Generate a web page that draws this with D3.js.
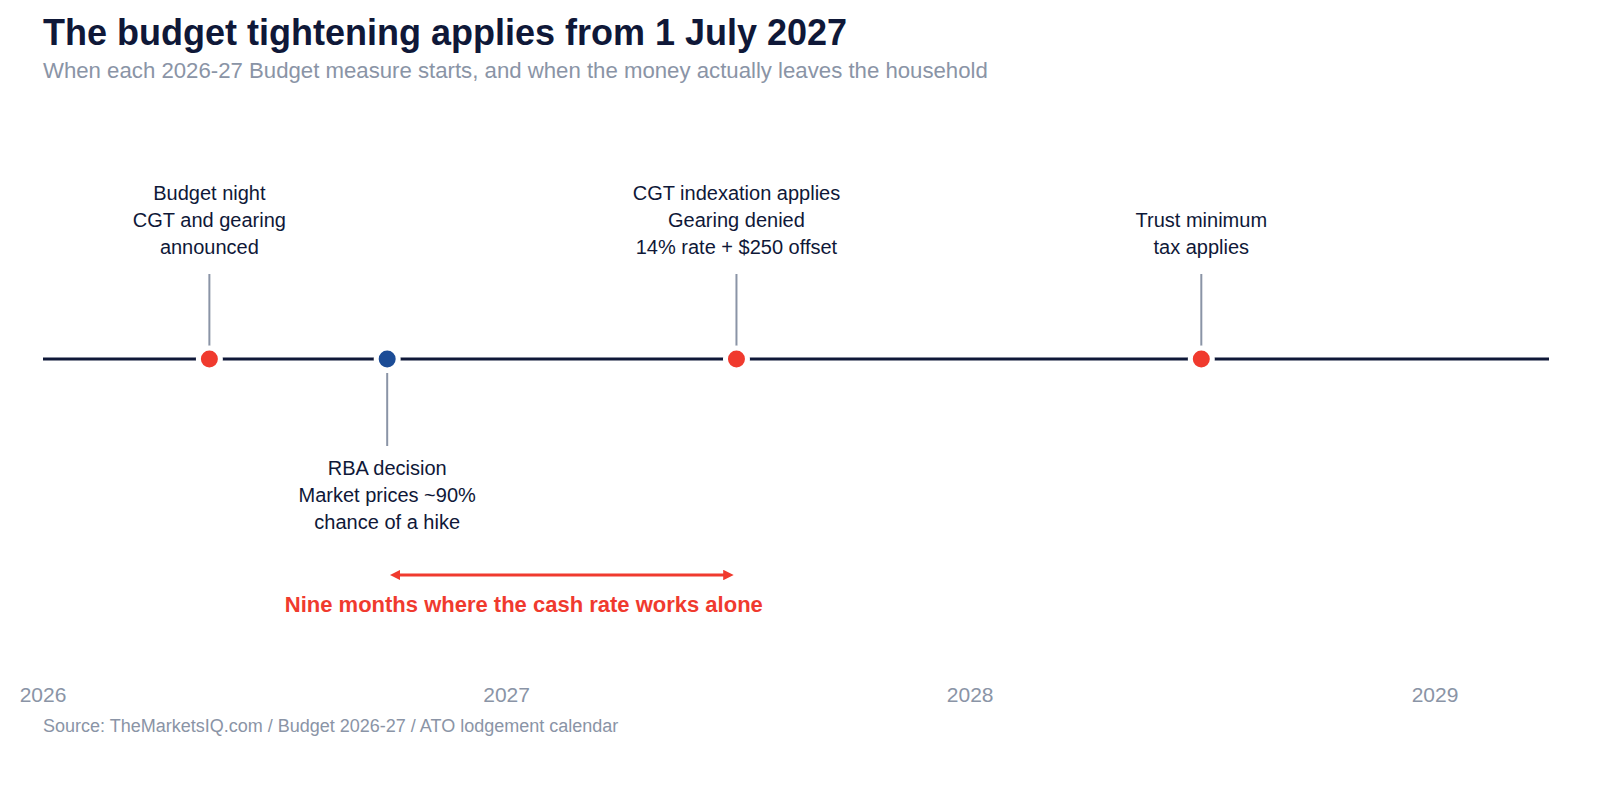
<!DOCTYPE html>
<html>
<head>
<meta charset="utf-8">
<script src="https://cdn.jsdelivr.net/npm/d3@7"></script>
<style>
  body { margin: 0; background: #fff; font-family: "Liberation Sans", Arial, sans-serif; }
</style>
</head>
<body>
<div class="canvas"></div>
<script>
const eventDates = ["2026-05-12", "2026-09-29", "2027-07-01", "2028-07-01"];
const eventLabels = [
  ["Budget night", "CGT and gearing", "announced"],
  ["RBA decision", "Market prices ~90%", "chance of a hike"],
  ["CGT indexation applies", "Gearing denied", "14% rate + $250 offset"],
  ["Trust minimum", "tax applies"],
];
const eventSide = ["above", "below", "above", "above"];
const eventKind = ["budget", "rba", "budget", "budget"];
const tickYears = ["2026", "2027", "2028", "2029"];
const spanDates = ["2026-09-29", "2027-07-01"];
const spanLabel = "Nine months where the cash rate works alone";

const width = 1600, height = 800;
const axisY = 359;
const navy = "#0f1838", red = "#f03a2e", blue = "#1c4c96", grey = "#8a94a6";

const svg = d3.select(".canvas").append("svg")
  .attr("width", width).attr("height", height);

const x = d3.scaleTime()
  .domain([new Date("2026-01-01"), new Date("2029-01-01")])
  .range([43, 1435]);

// title block
svg.append("text").attr("x", 43).attr("y", 45)
  .attr("font-size", 36).attr("font-weight", "bold").attr("fill", navy)
  .text("The budget tightening applies from 1 July 2027");
svg.append("text").attr("x", 43).attr("y", 78)
  .attr("font-size", 22.2).attr("fill", grey)
  .text("When each 2026-27 Budget measure starts, and when the money actually leaves the household");

// timeline
svg.append("line")
  .attr("x1", 43).attr("x2", 1549).attr("y1", axisY).attr("y2", axisY)
  .attr("stroke", navy).attr("stroke-width", 3);

const events = eventDates.map((d, i) => ({
  date: new Date(d), lines: eventLabels[i], side: eventSide[i], kind: eventKind[i],
}));

const g = svg.selectAll("g.event").data(events).enter().append("g").attr("class", "event");

g.append("line")
  .attr("x1", (d) => x(d.date)).attr("x2", (d) => x(d.date))
  .attr("y1", (d) => (d.side === "above" ? 274 : 373))
  .attr("y2", (d) => (d.side === "above" ? 346 : 446))
  .attr("stroke", grey).attr("stroke-width", 2);

g.append("circle")
  .attr("cx", (d) => x(d.date)).attr("cy", axisY).attr("r", 11)
  .attr("fill", (d) => (d.kind === "rba" ? blue : red))
  .attr("stroke", "#fff").attr("stroke-width", 5);

g.each(function (d) {
  const n = d.lines.length;
  const lastBase = 254;
  const firstBase = d.side === "above" ? lastBase - (n - 1) * 27 : 475;
  const t = d3.select(this).append("text")
    .attr("text-anchor", "middle").attr("font-size", 20).attr("fill", navy);
  d.lines.forEach((l, j) => {
    t.append("tspan").attr("x", x(d.date)).attr("y", firstBase + j * 27).text(l);
  });
});

// span arrow
const defs = svg.append("defs");
["start", "end"].forEach((k) => {
  defs.append("marker").attr("id", "arr-" + k)
    .attr("viewBox", "0 0 10 10").attr("refX", 5).attr("refY", 5)
    .attr("markerWidth", 3.5).attr("markerHeight", 3.5)
    .attr("orient", k === "start" ? "auto-start-reverse" : "auto")
    .append("path").attr("d", "M0,0 L10,5 L0,10 z").attr("fill", red);
});
const sx0 = x(new Date(spanDates[0])) + 8, sx1 = x(new Date(spanDates[1])) - 8;
svg.append("line")
  .attr("x1", sx0).attr("x2", sx1).attr("y1", 575).attr("y2", 575)
  .attr("stroke", red).attr("stroke-width", 3)
  .attr("marker-start", "url(#arr-start)").attr("marker-end", "url(#arr-end)");
svg.append("text").attr("x", (sx0 + sx1) / 2 - 38).attr("y", 612)
  .attr("text-anchor", "middle").attr("font-size", 22).attr("font-weight", "bold")
  .attr("fill", red).text(spanLabel);

// year ticks
svg.selectAll("text.tick").data(tickYears).enter().append("text")
  .attr("class", "tick")
  .attr("x", (d) => x(new Date(d + "-01-01"))).attr("y", 702)
  .attr("text-anchor", "middle").attr("font-size", 21).attr("fill", grey)
  .text((d) => d);

svg.append("text").attr("x", 43).attr("y", 732)
  .attr("font-size", 18).attr("fill", grey)
  .text("Source: TheMarketsIQ.com / Budget 2026-27 / ATO lodgement calendar");
</script>
</body>
</html>
